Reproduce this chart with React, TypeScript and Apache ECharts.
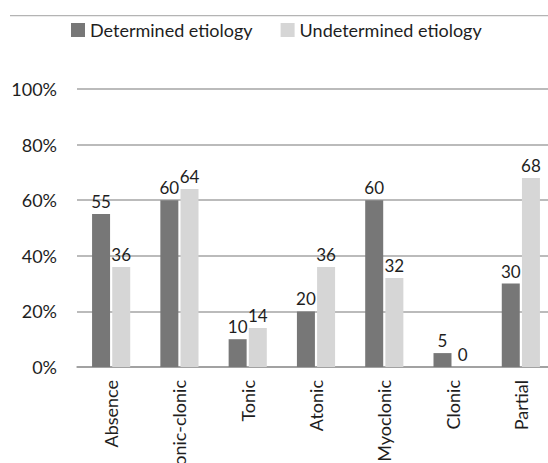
import React, { useEffect, useRef } from "react";
import * as echarts from "echarts";

const categories = ["Absence", "Tonic-clonic", "Tonic", "Atonic", "Myoclonic", "Clonic", "Partial"];
const determined = [55, 60, 10, 20, 60, 5, 30];
const undetermined = [36, 64, 14, 36, 32, 0, 68];
const yTicks = [0, 20, 40, 60, 80, 100];

const FONT = "Lato, 'Open Sans', sans-serif";
const TXT = "#1e1e1e";

export default function App() {
  const ref = useRef<HTMLDivElement>(null);
  useEffect(() => {
    if (!ref.current) return;
    const chart = echarts.init(ref.current, null, { renderer: "svg" });
    chart.setOption({
      animation: false,
      backgroundColor: "#ffffff",
      textStyle: { fontFamily: FONT },
      graphic: [
        {
          type: "rect",
          z: 100,
          shape: { x: 10, y: 15, width: 540, height: 1.2 },
          style: { fill: "#b4b4b4" },
        },
      ],
      legend: {
        top: 16,
        left: 66,
        itemWidth: 14,
        itemHeight: 14,
        itemGap: 28,
        icon: "rect",
        textStyle: { fontSize: 18, color: TXT, fontFamily: FONT },
        data: ["Determined etiology", "Undetermined etiology"],
      },
      grid: { left: 77, right: -7, top: 89, bottom: 96, containLabel: false, outerBoundsMode: "none" },
      xAxis: {
        type: "category",
        data: categories,
        axisLine: { lineStyle: { color: "#9a9a9a", width: 1.5 } },
        axisTick: { show: false },
        axisLabel: {
          rotate: 90,
          interval: 0,
          fontSize: 18,
          color: TXT,
          margin: 13,
          fontFamily: FONT,
        },
      },
      yAxis: {
        type: "value",
        min: yTicks[0],
        max: yTicks[yTicks.length - 1],
        interval: 20,
        axisLine: { show: false },
        axisTick: { show: false },
        splitLine: { lineStyle: { color: "#a4a4a4", width: 1.5 } },
        axisLabel: {
          formatter: "{value}%",
          fontSize: 18,
          color: TXT,
          margin: 20,
          fontFamily: FONT,
        },
      },
      series: [
        {
          name: "Determined etiology",
          type: "bar",
          data: determined,
          barWidth: 18,
          barGap: "12%",
          itemStyle: { color: "#777777" },
          label: { show: true, position: "top", distance: 4, fontSize: 17, color: TXT, fontFamily: FONT },
        },
        {
          name: "Undetermined etiology",
          type: "bar",
          data: undetermined,
          barWidth: 18,
          itemStyle: { color: "#d6d6d6" },
          label: { show: true, position: "top", distance: 4, fontSize: 17, color: TXT, fontFamily: FONT },
        },
      ],
    });
    return () => chart.dispose();
  }, []);
  return (
    <div
      ref={ref}
      style={{ position: "fixed", left: 0, top: 0, width: 548, height: 463 }}
    />
  );
}
